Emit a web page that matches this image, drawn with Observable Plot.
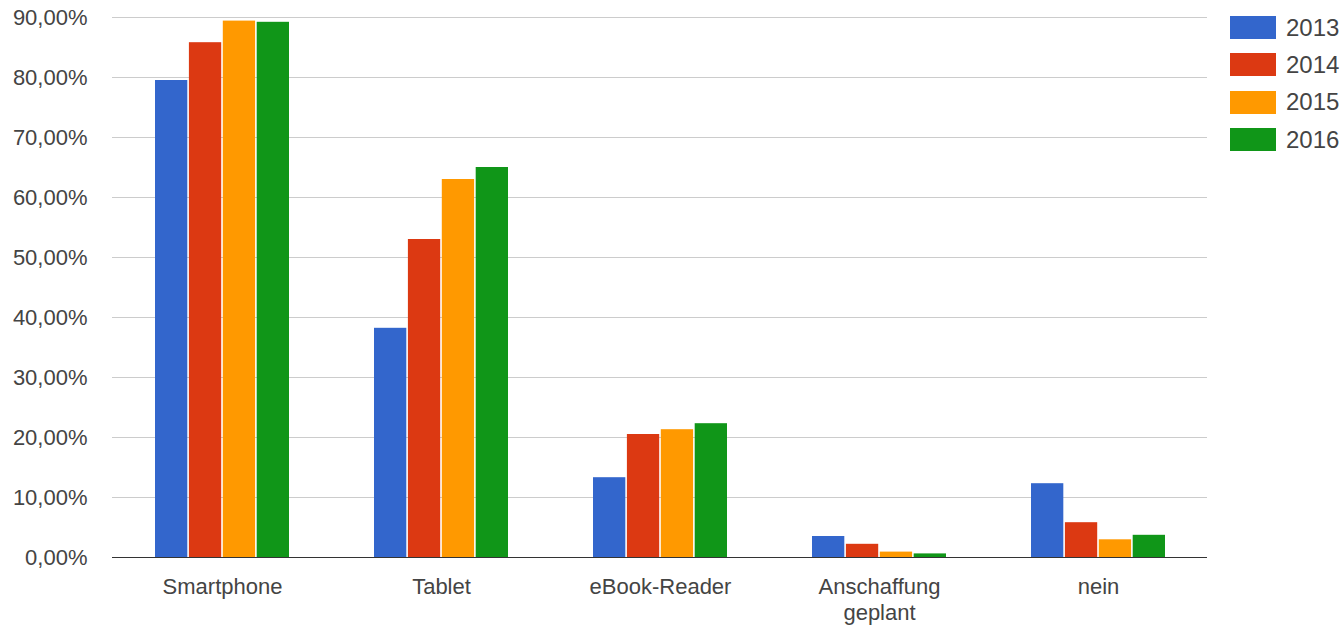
<!DOCTYPE html>
<html>
<head>
<meta charset="utf-8">
<script src="https://cdn.jsdelivr.net/npm/d3@7"></script>
<script src="https://cdn.jsdelivr.net/npm/@observablehq/plot@0.6"></script>
<style>
  body { margin: 0; background: #fff; font-family: "Liberation Sans", Arial, sans-serif; }
  #wrap { position: relative; width: 1343px; height: 629px; }
  #legend { position: absolute; left: 1230px; top: 9px; }
  .item { display: flex; align-items: center; height: 37.3px; }
  .sw { width: 46px; height: 23px; margin-right: 10px; }
  .lab { font-size: 24px; color: #444; line-height: 1; }
</style>
</head>
<body>
<div id="wrap"><div id="chart"></div><div id="legend"></div></div>
<script>
const categories = ["Smartphone", "Tablet", "eBook-Reader", "Anschaffung\ngeplant", "nein"];
const years = ["2013", "2014", "2015", "2016"];
const colors = ["#3366CC", "#DC3912", "#FF9900", "#109618"];
const values2013 = [79.5, 38.2, 13.3, 3.5, 12.3];
const values2014 = [85.8, 53.0, 20.5, 2.2, 5.8];
const values2015 = [89.4, 63.0, 21.3, 0.9, 2.95];
const values2016 = [89.2, 65.0, 22.3, 0.6, 3.7];
const yTicks = [0, 10, 20, 30, 40, 50, 60, 70, 80, 90];

const series = [values2013, values2014, values2015, values2016];
const fmt = v => v.toFixed(2).replace(".", ",") + "%";

const plotLeft = 112, plotRight = 1207;
const padIn = 0.39, padOut = 0.195;
const step = (plotRight - plotLeft) / (categories.length - padIn + 2 * padOut);
const band = step * (1 - padIn);
const gap = 2;
const barW = (band - gap * (years.length - 1)) / years.length;

const barMarks = years.map((y, j) => {
  const rows = categories.map((c, i) => ({category: c, year: y, value: series[j][i]}));
  const left = j * (barW + gap);
  return Plot.barY(rows, {
    x: "category", y: "value", fill: "year",
    insetLeft: left, insetRight: band - left - barW
  });
});

const chart = Plot.plot({
  width: 1343,
  height: 629,
  marginLeft: plotLeft,
  marginRight: 1343 - plotRight,
  marginTop: 17,
  marginBottom: 72,
  style: {fontFamily: "Liberation Sans, Arial, sans-serif", fontSize: "22px", color: "#444", background: "#fff"},
  x: {domain: categories, paddingInner: padIn, paddingOuter: padOut, label: null},
  y: {domain: [0, 90], label: null},
  color: {domain: years, range: colors},
  marks: [
    Plot.gridY(yTicks, {stroke: "#ccc", strokeOpacity: 1}),
    Plot.axisY(yTicks, {tickFormat: fmt, tickSize: 0, tickPadding: 25, fontSize: 22, fill: "#444", label: null}),
    Plot.axisX({tickSize: 0, tickPadding: 19, fontSize: 22, fill: "#444", label: null, lineHeight: 1.15}),
    ...barMarks,
    Plot.ruleY([0], {stroke: "#333", strokeWidth: 1.2})
  ]
});
document.getElementById("chart").appendChild(chart);

const legend = document.getElementById("legend");
years.forEach((y, i) => {
  const it = document.createElement("div");
  it.className = "item";
  it.innerHTML = `<div class="sw" style="background:${colors[i]}"></div><span class="lab">${y}</span>`;
  legend.appendChild(it);
});
</script>
</body>
</html>
